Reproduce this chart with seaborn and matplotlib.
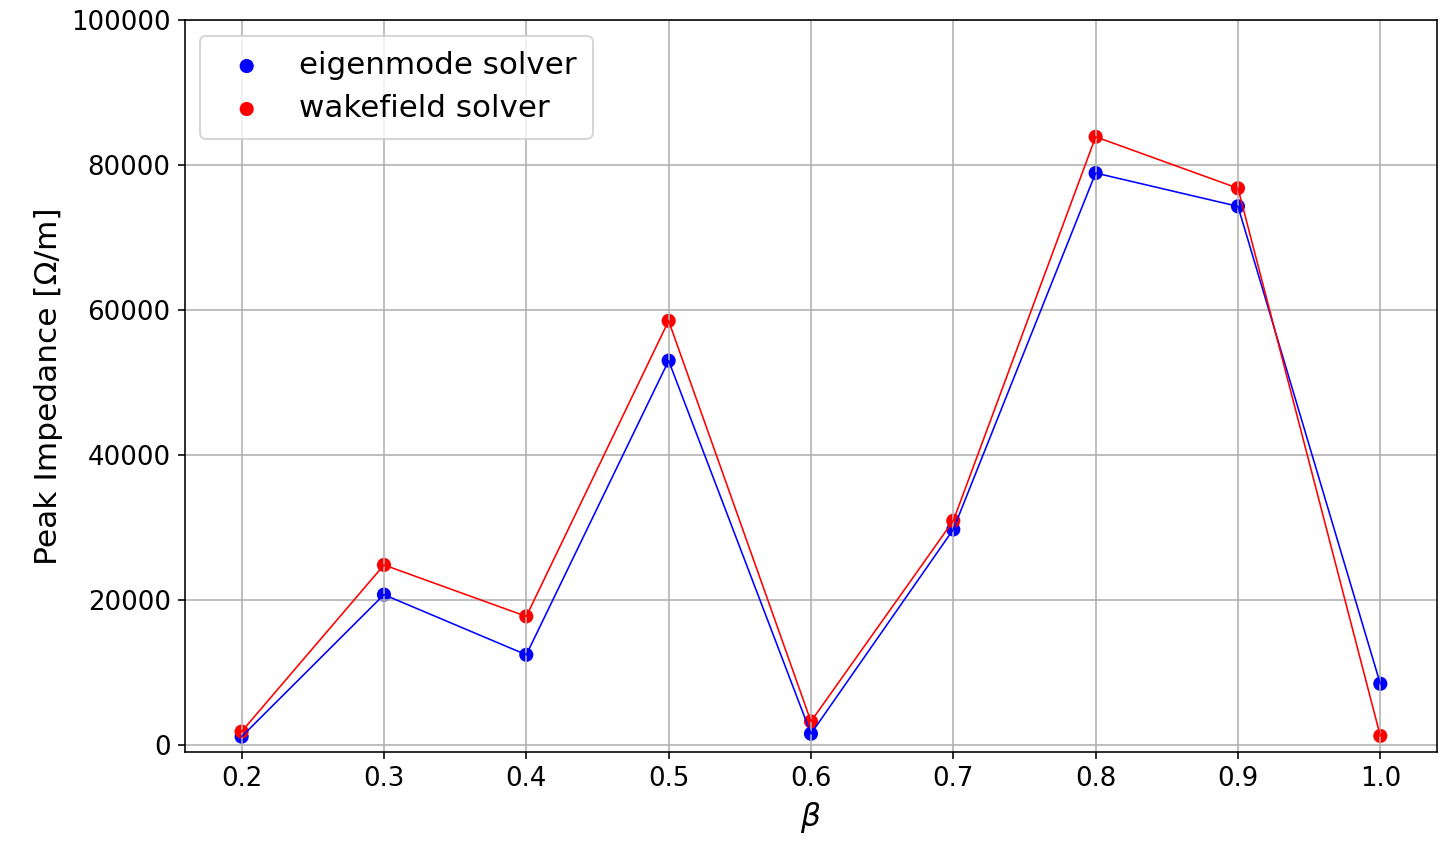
import numpy as np
import pandas as pd
import matplotlib
matplotlib.use("Agg")
import matplotlib.pyplot as plt
import seaborn as sns

beta = [0.2, 0.3, 0.4, 0.5, 0.6, 0.7, 0.8, 0.9, 1.0]
eigenmode = [1100, 20700, 12400, 53000, 1500, 29700, 78900, 74300, 8400]
wakefield = [1800, 24800, 17700, 58500, 3200, 30900, 83900, 76800, 1200]

df_eig = pd.DataFrame({"beta": beta, "Z": eigenmode})
df_wake = pd.DataFrame({"beta": beta, "Z": wakefield})

DPI = 144
fig = plt.figure(figsize=(1443 / DPI, 841 / DPI), dpi=DPI)
ax = fig.add_axes([0.128, 0.106, 0.868, 0.870])

sns.lineplot(data=df_eig, x="beta", y="Z", ax=ax, color="blue", linewidth=0.8, legend=False)
sns.lineplot(data=df_wake, x="beta", y="Z", ax=ax, color="red", linewidth=0.8, legend=False)
sns.scatterplot(data=df_eig, x="beta", y="Z", ax=ax, color="blue", s=50,
                edgecolor="none", label="eigenmode solver")
sns.scatterplot(data=df_wake, x="beta", y="Z", ax=ax, color="red", s=50,
                edgecolor="none", label="wakefield solver")

ax.set_ylim(-1000, 100000)
ax.set_xticks(beta)
ax.set_xticklabels([f"{b:.1f}" for b in beta])
ax.grid(True, color="#b0b0b0", linewidth=0.8)
ax.tick_params(labelsize=13)
ax.set_xlabel(r"$\beta$", fontsize=15.6)
ax.set_ylabel("Peak Impedance [Ω/m]", fontsize=15.6)
ax.legend(loc="upper left", fontsize=15.5, borderpad=0.5, handletextpad=0.7,
          labelspacing=0.45)

fig.savefig("out.png", dpi=DPI)
